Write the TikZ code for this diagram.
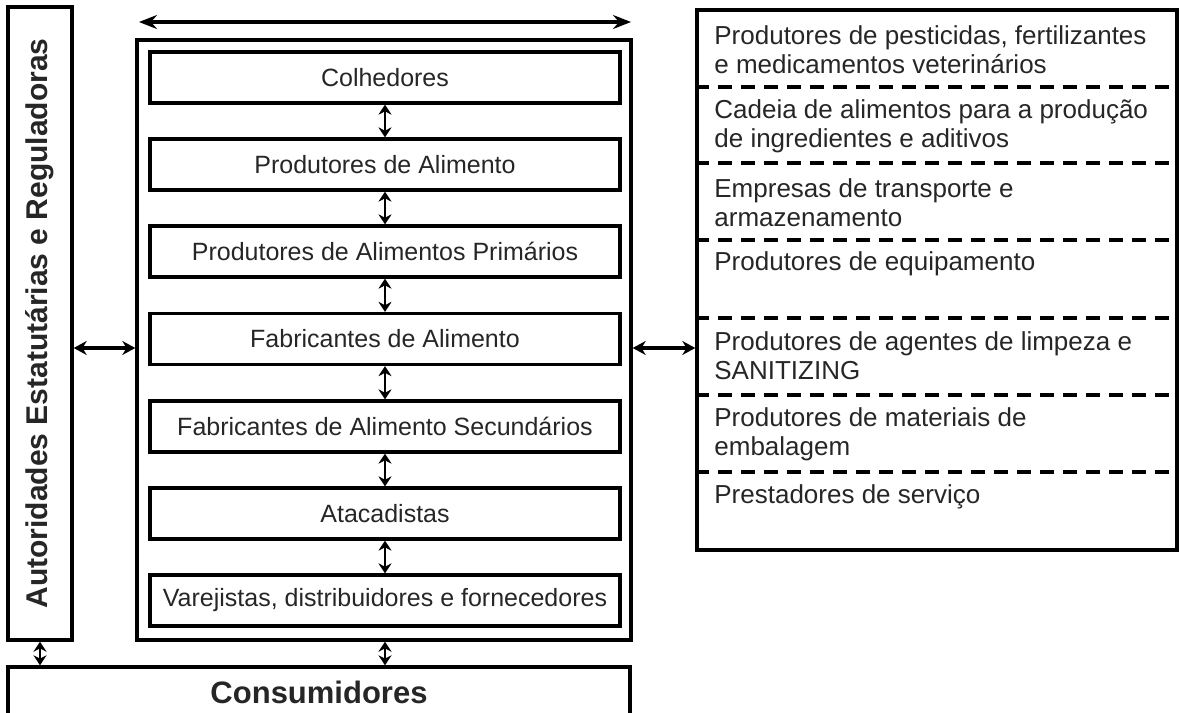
\documentclass[tikz,border=0pt]{standalone}
\usepackage{fontspec}
\setmainfont{Liberation Sans}
\usetikzlibrary{arrows.meta,calc}
\begin{document}
\begin{tikzpicture}[x=0.5pt,y=-0.5pt,
  every node/.style={inner sep=0pt, text=black!85},
  frame/.style={draw=black, line width=1.7pt},
  stage/.style={draw=black, line width=1.6pt, minimum width=235pt, minimum height=25.5pt, font=\fontsize{12.5}{15}\selectfont},
  supplier/.style={anchor=west, align=left, font=\fontsize{13}{14.5}\selectfont},
  sep/.style={line width=1.9pt, dash pattern=on 7pt off 4.5pt},
  bigarrow/.style={line width=2pt, {Stealth[length=9pt,width=7pt,inset=3pt]}-{Stealth[length=9pt,width=7pt,inset=3pt]}},
  sidearrow/.style={line width=1.6pt, {Stealth[length=6.5pt,width=7pt]}-{Stealth[length=6.5pt,width=7pt]}},
  smallarrow/.style={line width=1.4pt, {Stealth[length=5pt,width=6.5pt]}-{Stealth[length=5pt,width=6.5pt]}}
]
\useasboundingbox (0,0) rectangle (1180,713);

% left authority box
\node[frame, minimum width=32pt, minimum height=316.5pt] (auth) at (40,323.5) {};
\node[rotate=90, font=\fontsize{15}{18}\selectfont\bfseries] (authtext) at (auth.center) {Autoridades Estatutárias e Reguladoras};

% central chain box
\node[frame, minimum width=247pt, minimum height=300pt] (chain) at (384,340) {};
\node[stage] (s1) at (385,77.5) {Colhedores};
\node[stage] (s2) at (385,164.5) {Produtores de Alimento};
\node[stage] (s3) at (385,251.5) {Produtores de Alimentos Primários};
\node[stage] (s4) at (385,339) {Fabricantes de Alimento};
\node[stage] (s5) at (385,426.5) {Fabricantes de Alimento Secundários};
\node[stage] (s6) at (385,513.5) {Atacadistas};
\node[stage] (s7) at (385,600.5) {Varejistas, distribuidores e fornecedores};

% consumers
\node[frame, minimum width=311pt, minimum height=25pt, font=\fontsize{15.5}{18}\selectfont\bfseries] (cons) at (319,692) {Consumidores};

% right supplier box
\node[frame, minimum width=240pt, minimum height=270pt] (right) at (937,280) {};
\foreach \yy in {87,163,240,318,395,472}{
  \draw[sep] (right.west |- 0,\yy) -- (right.east |- 0,\yy);
}
\node[supplier] (r1) at (714,50) {Produtores de pesticidas, fertilizantes\\e medicamentos veterinários};
\node[supplier] (r2) at (714,126) {Cadeia de alimentos para a produção\\de ingredientes e aditivos};
\node[supplier] (r3) at (714,203) {Empresas de transporte e\\armazenamento};
\node[supplier] (r4) at (714,264) {Produtores de equipamento};
\node[supplier] (r5) at (714,356) {Produtores de agentes de limpeza e\\SANITIZING};
\node[supplier] (r6) at (714,434) {Produtores de materiais de\\embalagem};
\node[supplier] (r7) at (714,497) {Prestadores de serviço};

% arrows
\coordinate (tl) at (139,22);
\coordinate (tr) at (631,22);
\draw[bigarrow] (tl) -- (tr);

\coordinate (midy) at (0,348);
\draw[sidearrow] (auth.east |- midy) -- (chain.west |- midy);
\draw[sidearrow] (chain.east |- midy) -- (right.west |- midy);

\foreach \a/\b in {s1/s2,s2/s3,s3/s4,s4/s5,s5/s6,s6/s7}{
  \draw[smallarrow] (\a.south) -- (\b.north);
}
\draw[smallarrow] (chain.south -| s7.south) -- (s7.south |- cons.north);
\draw[smallarrow] (auth.south) -- (auth.south |- cons.north);
\end{tikzpicture}
\end{document}
